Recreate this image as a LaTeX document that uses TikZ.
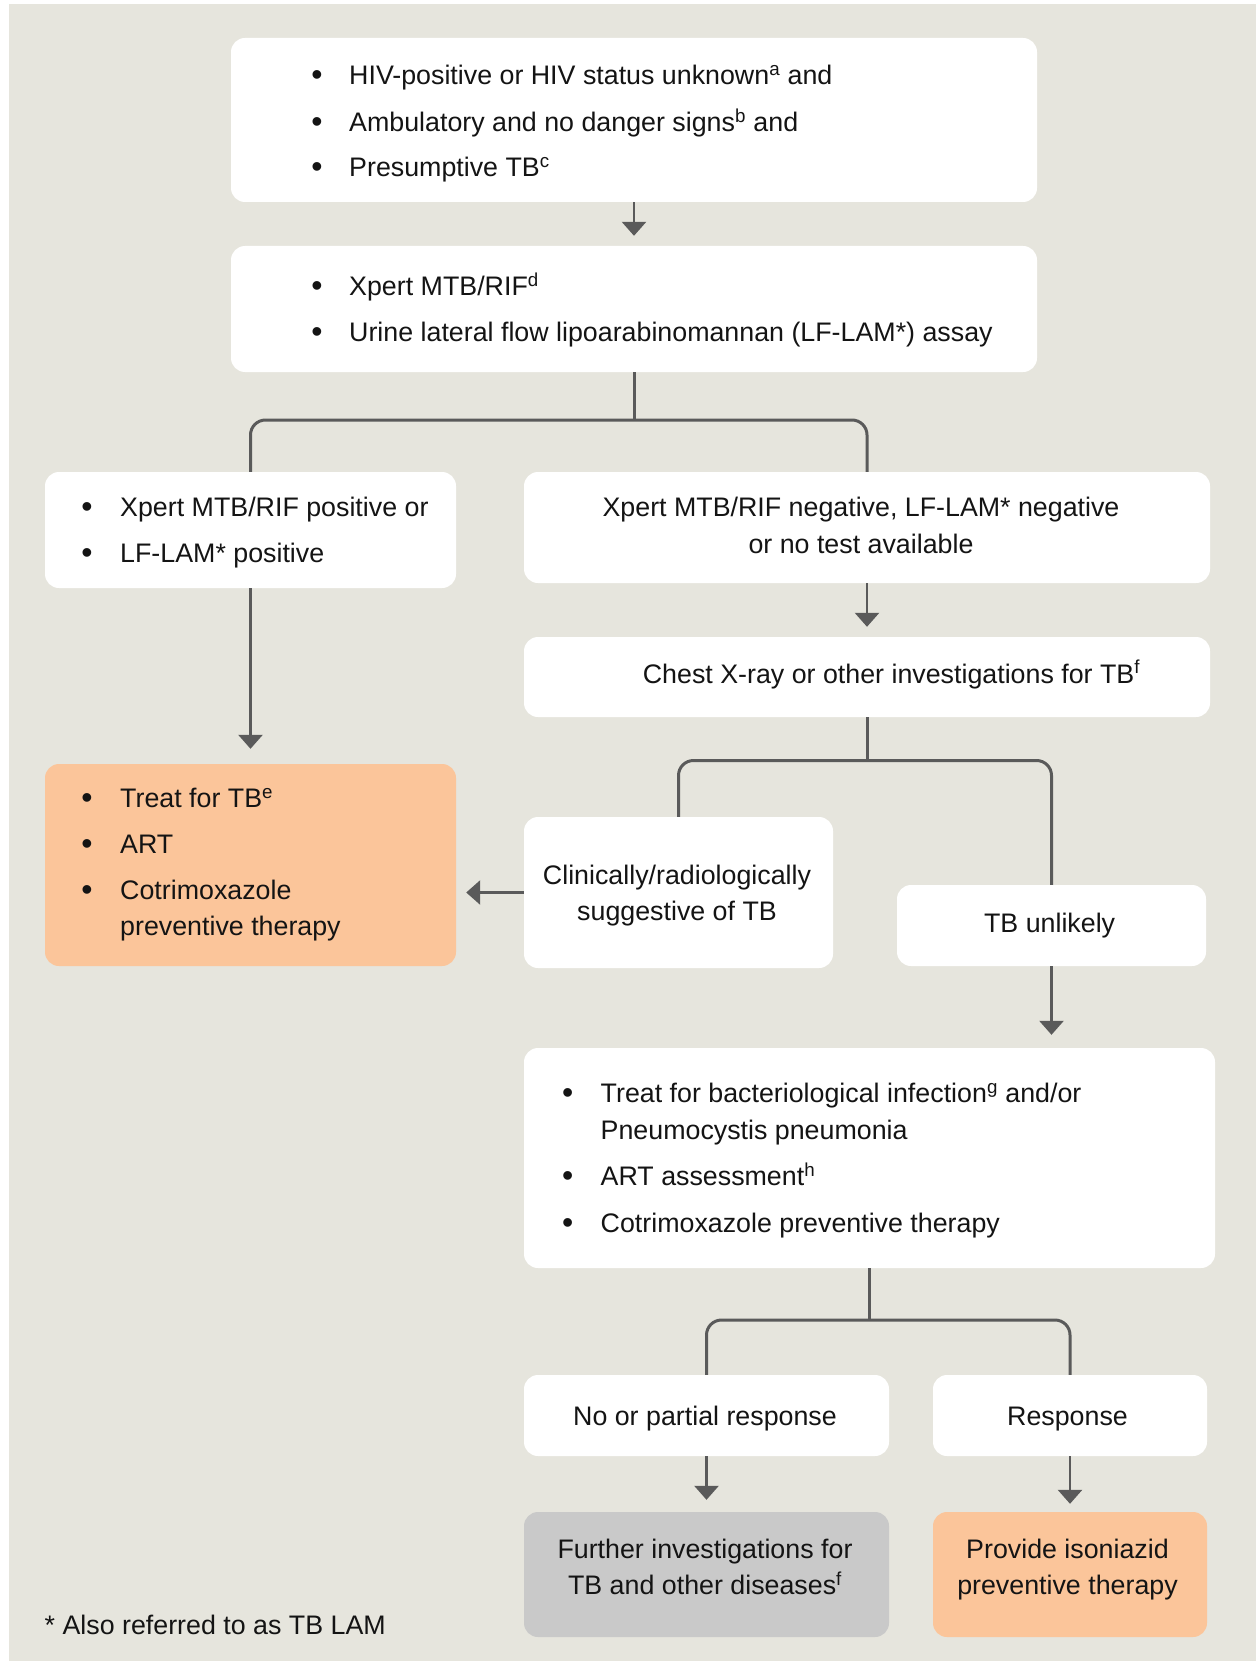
\documentclass[tikz,border=0pt]{standalone}
\usepackage{fontspec}
\setmainfont{Liberation Sans}
\usetikzlibrary{arrows.meta}
\definecolor{bgc}{HTML}{E6E5DD}
\definecolor{peach}{HTML}{FBC59A}
\definecolor{greybox}{HTML}{C9C9C9}
\definecolor{linec}{HTML}{5A5A5A}
\definecolor{txtc}{HTML}{141414}
\newcommand\fs{\fontsize{26.8}{35.5}\selectfont}
\newcommand\fsb{\fontsize{32}{35.5}\selectfont}
\newcommand\sups[1]{\textsuperscript{#1}}
\begin{document}
\begin{tikzpicture}[x=1pt,y=-1pt,
  box/.style={fill=white, rounded corners=14pt, inner sep=0pt, draw=none},
  tl/.style={inner sep=0pt, anchor=base west, font=\fs, text=txtc},
  tc/.style={inner sep=0pt, anchor=base, font=\fs, text=txtc},
  bul/.style={inner sep=0pt, anchor=base, font=\fsb, text=txtc},
  arr/.style={draw=linec, line width=2.8pt, -{Triangle[length=14pt,width=24pt]}},
  conn/.style={draw=linec, line width=3pt, rounded corners=15pt}]
\useasboundingbox (0,0) rectangle (1256,1661);
\fill[bgc] (9,4) rectangle (1256,1661);

% boxes
\node[box, minimum width=806pt, minimum height=164pt] (b1) at (634,120) {};
\node[box, minimum width=806pt, minimum height=126pt] (b2) at (634,309) {};
\node[box, minimum width=411pt, minimum height=116pt] (b3) at (250.5,530) {};
\node[box, minimum width=686pt, minimum height=111pt] (b4) at (867,527.5) {};
\node[box, minimum width=686pt, minimum height=80pt] (b5) at (867,677) {};
\node[box, minimum width=309pt, minimum height=151pt] (b6) at (678.5,892.5) {};
\node[box, minimum width=309pt, minimum height=81pt] (b7) at (1051.5,925.5) {};
\node[box, fill=peach, minimum width=411pt, minimum height=202pt] (b8) at (250.5,865) {};
\node[box, minimum width=691pt, minimum height=220pt] (b9) at (869.5,1158) {};
\node[box, minimum width=365pt, minimum height=81pt] (b10) at (706.5,1415.5) {};
\node[box, minimum width=274pt, minimum height=81pt] (b11) at (1070,1415.5) {};
\node[box, fill=greybox, minimum width=365pt, minimum height=125pt] (b12) at (706.5,1574.5) {};
\node[box, fill=peach, minimum width=274pt, minimum height=125pt] (b13) at (1070,1574.5) {};

% connectors
\coordinate (j1) at (634,420);
\coordinate (j2) at (867,760.5);
\coordinate (j3) at (869.5,1320);
\draw[arr, shorten >=10pt] (b1.south) -- (b2.north);
\draw[conn] (b2.south) -- (j1);
\draw[conn] (b3.north) -- (b3.north |- j1) -- (b4.north |- j1) -- (b4.north);
\draw[arr, shorten >=15pt] (b3.south) -- (b8.north);
\draw[arr, shorten >=10pt] (b4.south) -- (b5.north);
\draw[conn] (b5.south) -- (j2);
\draw[conn] (b6.north) -- (b6.north |- j2) -- (b7.north |- j2) -- (b7.north);
\draw[arr, shorten >=10pt] (b6.west) -- (b8.east |- b6.west);
\draw[arr, shorten >=13pt] (b7.south) -- (b7.south |- b9.north);
\draw[conn] (b9.south) -- (j3);
\draw[conn] (b10.north) -- (b10.north |- j3) -- (b11.north |- j3) -- (b11.north);
\draw[arr, shorten >=12pt] (b10.south) -- (b12.north);
\draw[arr, shorten >=8pt] (b11.south) -- (b13.north);

% box 1 text
\node[bul] (u1a) at (317,86) {•};
\node[tl] (t1a) at (349,85) {HIV-positive or HIV status unknown\sups{a} and};
\node[bul] (u1b) at (317,132.5) {•};
\node[tl] (t1b) at (349,131.5) {Ambulatory and no danger signs\sups{b} and};
\node[bul] (u1c) at (317,178) {•};
\node[tl] (t1c) at (349,177) {Presumptive TB\sups{c}};
% box 2 text
\node[bul] (u2a) at (317,297) {•};
\node[tl] (t2a) at (349,296) {Xpert MTB/RIF\sups{d}};
\node[bul] (u2b) at (317,342.7) {•};
\node[tl] (t2b) at (349,341.7) {Urine lateral flow lipoarabinomannan (LF-LAM*) assay};
% box 3 text
\node[bul] (u3a) at (87,517.7) {•};
\node[tl] (t3a) at (120,516.7) {Xpert MTB/RIF positive or};
\node[bul] (u3b) at (87,563.6) {•};
\node[tl] (t3b) at (120,562.6) {LF-LAM* positive};
% box 4 text
\node[tc] (t4a) at (861,516) {Xpert MTB/RIF negative, LF-LAM* negative};
\node[tc] (t4b) at (861,553) {or no test available};
% box 5 text
\node[tc] (t5) at (891.5,683) {Chest X-ray or other investigations for TB\sups{f}};
% box 6 text
\node[tc] (t6a) at (677,884) {Clinically/radiologically};
\node[tc] (t6b) at (677,920.5) {suggestive of TB};
% box 7 text
\node[tc] (t7) at (1049.6,932) {TB unlikely};
% box 8 text
\node[bul] (u8a) at (87,808.6) {•};
\node[tl] (t8a) at (120,807.6) {Treat for TB\sups{e}};
\node[bul] (u8b) at (87,854.5) {•};
\node[tl] (t8b) at (120,853.5) {ART};
\node[bul] (u8c) at (87,900.4) {•};
\node[tl] (t8c) at (120,899.4) {Cotrimoxazole};
\node[tl] (t8d) at (120,935.8) {preventive therapy};
% box 9 text
\node[bul] (u9a) at (567.6,1103.4) {•};
\node[tl] (t9a) at (600.5,1102.4) {Treat for bacteriological infection\sups{g} and/or};
\node[tl] (t9b) at (600.5,1139) {Pneumocystis pneumonia};
\node[bul] (u9c) at (567.6,1186.5) {•};
\node[tl] (t9c) at (600.5,1185.5) {ART assessment\sups{h}};
\node[bul] (u9d) at (567.6,1233) {•};
\node[tl] (t9d) at (600.5,1232) {Cotrimoxazole preventive therapy};
% box 10-13 text
\node[tc] (t10) at (705,1425.8) {No or partial response};
\node[tc] (t11) at (1067.5,1425.8) {Response};
\node[tc] (t12a) at (705,1558.6) {Further investigations for};
\node[tc] (t12b) at (705,1594.4) {TB and other diseases\sups{f}};
\node[tc] (t13a) at (1067.5,1558.6) {Provide isoniazid};
\node[tc] (t13b) at (1067.5,1594.4) {preventive therapy};
% footnote
\node[tl] (fn) at (44.5,1634.5) {* Also referred to as TB LAM};
\end{tikzpicture}
\end{document}
